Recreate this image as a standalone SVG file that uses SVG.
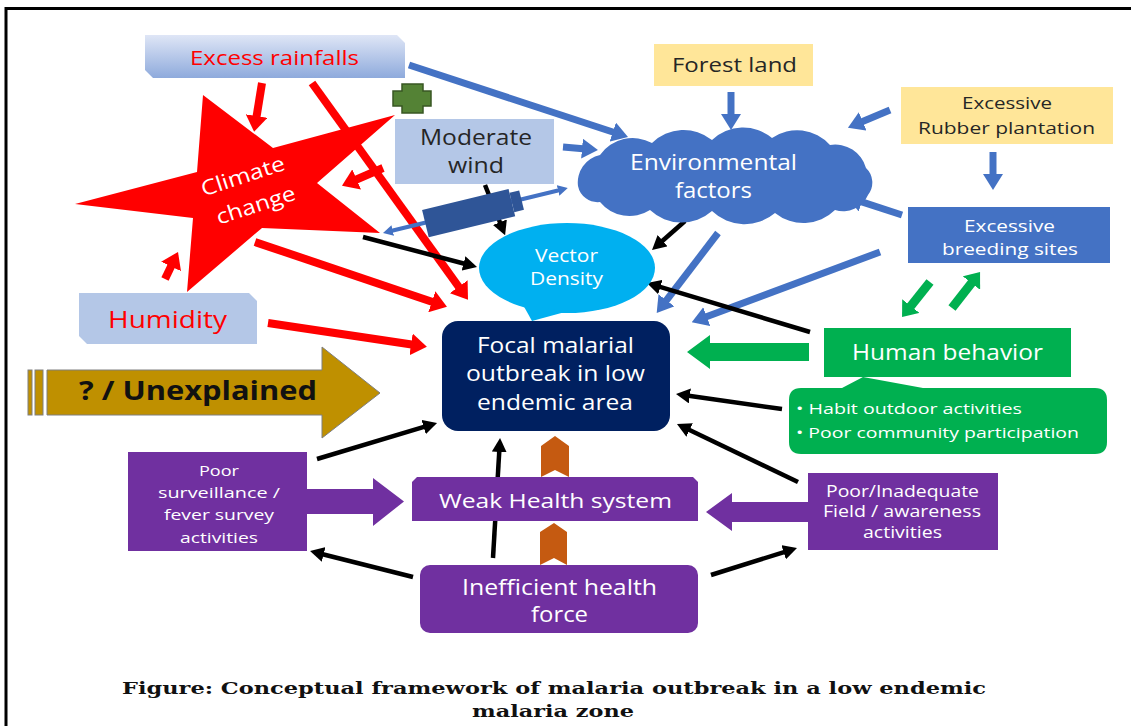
<svg xmlns="http://www.w3.org/2000/svg" width="1131" height="726" viewBox="0 0 1131 726">
<defs>
<linearGradient id="gRain" x1="0" y1="0" x2="0" y2="1"><stop offset="0" stop-color="#dfe6f6"/><stop offset="1" stop-color="#8eaadc"/></linearGradient>
<marker id="mr" markerUnits="userSpaceOnUse" markerWidth="16" markerHeight="22" viewBox="0 0 16 22" refX="4" refY="11" orient="auto"><path d="M0,0 L16,11 L0,22 z" fill="#ff0000"/></marker>
<marker id="mb" markerUnits="userSpaceOnUse" markerWidth="16" markerHeight="20" viewBox="0 0 16 20" refX="4" refY="10" orient="auto"><path d="M0,0 L16,10 L0,20 z" fill="#4472c4"/></marker>
<marker id="mk" markerUnits="userSpaceOnUse" markerWidth="14" markerHeight="15" viewBox="0 0 14 15" refX="3" refY="7.5" orient="auto"><path d="M0,0 L14,7.5 L0,15 z" fill="#000"/></marker>
<marker id="mg" markerUnits="userSpaceOnUse" markerWidth="14" markerHeight="22" viewBox="0 0 14 22" refX="4" refY="11" orient="auto"><path d="M0,0 L14,11 L0,22 z" fill="#00b050"/></marker>
<marker id="ms" markerUnits="userSpaceOnUse" markerWidth="10" markerHeight="11" viewBox="0 0 10 11" refX="2" refY="5.5" orient="auto-start-reverse"><path d="M0,0 L10,5.5 L0,11 z" fill="#4472c4"/></marker>
<style>
.t{font-family:"Open Sans","Liberation Sans",sans-serif;text-anchor:middle}
.wt{fill:#ffffff}
.dk{fill:#262626}
.rd{fill:#ff0000}
.red{stroke:#ff0000;stroke-width:8;fill:none;marker-end:url(#mr)}
.blu{stroke:#4472c4;stroke-width:7;fill:none;marker-end:url(#mb)}
.blk{stroke:#000;stroke-width:4.5;fill:none;marker-end:url(#mk)}
.grn{stroke:#00b050;stroke-width:9;fill:none;marker-end:url(#mg)}
.cap{font-family:"DejaVu Serif","Liberation Serif",serif;font-weight:bold;text-anchor:middle;fill:#111}
</style>
</defs>
<rect x="0" y="0" width="1131" height="726" fill="#ffffff"/>
<path d="M6,726 L6,8.5 L1131,8.5" stroke="#000" stroke-width="3" fill="none"/>

<g id="climate-change">
<path d="M203,95 L273,148 L395,115 L317,183 L380,233 L262,228 L187,292 L193,218 L75,204 L197,172 Z" fill="#ff0000"/>
<text class="t wt" x="245" y="183" font-size="21" textLength="87" lengthAdjust="spacingAndGlyphs" transform="rotate(-18 245 183)">Climate</text>
<text class="t wt" x="258" y="212" font-size="21" textLength="82" lengthAdjust="spacingAndGlyphs" transform="rotate(-18 258 212)">change</text>
</g>

<g id="connectors">
<line class="red" x1="262" y1="83" x2="256" y2="120"/>
<line class="red" x1="312" y1="83" x2="461" y2="290"/>
<line class="red" x1="383" y1="168" x2="353" y2="181"/>
<line class="red" x1="255" y1="242" x2="435.6" y2="303"/>
<line class="red" x1="165" y1="279" x2="172.8" y2="262.8"/>
<line class="red" x1="268" y1="323" x2="415" y2="345"/>

<line class="blu" x1="409" y1="65" x2="616.6" y2="133.3"/>
<line class="blu" x1="563" y1="147" x2="586" y2="149"/>
<line class="blu" x1="731" y1="92" x2="731" y2="118"/>
<line class="blu" x1="890" y1="110" x2="859" y2="123"/>
<line class="blu" x1="993" y1="152" x2="993" y2="178"/>
<line class="blu" x1="902" y1="215" x2="858" y2="200.7"/>
<line class="blu" x1="718" y1="233" x2="664" y2="303.5"/>
<line class="blu" x1="880" y1="252" x2="703" y2="318"/>

<line class="blk" x1="485" y1="185" x2="501" y2="225"/>
<line class="blk" x1="363" y1="237" x2="466.4" y2="264.2"/>
<line class="blk" x1="685" y1="221" x2="660.3" y2="242.7"/>
<line class="blk" x1="810" y1="332" x2="657.5" y2="286.2"/>
<line class="blk" x1="782" y1="409" x2="686.9" y2="395.5"/>
<line class="blk" x1="798" y1="482" x2="686.9" y2="428.8"/>
<line class="blk" x1="317" y1="459" x2="426.5" y2="426.2"/>
<line class="blk" x1="413" y1="577" x2="320.7" y2="553.7"/>
<line class="blk" x1="493" y1="558" x2="499.4" y2="449"/>
<line class="blk" x1="711" y1="575" x2="786.5" y2="551.3"/>

<line class="grn" x1="930" y1="282" x2="908.3" y2="309.2"/>
<line class="grn" x1="952" y1="308" x2="973.9" y2="279.9"/>
<path d="M809,343 H710 V335 L687,352 L710,369 V361 H809 Z" fill="#00b050"/>

<path d="M306,489 H373 V478 L404,501.5 L373,526 V514 H306 Z" fill="#7030a0"/>
<path d="M808,502 H732 V493 L706,512 L732,531 V522 H808 Z" fill="#7030a0"/>

<line x1="390.8" y1="231" x2="560" y2="190" stroke="#4472c4" stroke-width="4" marker-start="url(#ms)" marker-end="url(#ms)"/>
</g>

<g id="moderate-wind-link" transform="translate(473,212) rotate(-13.7)">
<rect x="-49" y="-14" width="89" height="28" fill="#2f5597"/>
<rect x="40" y="-10" width="10" height="20" fill="#2f5597"/>
</g>

<g id="excess-rainfalls">
<path d="M145,35 H397 L405,43 V78 H153 L145,70 Z" fill="url(#gRain)"/>
<text class="t rd" x="274.5" y="65" font-size="20" textLength="169" lengthAdjust="spacingAndGlyphs">Excess rainfalls</text>
</g>

<g id="plus">
<path d="M402,84 H423 V91 H431 V106 H423 V113 H402 V106 H393 V91 H402 Z" fill="#548235" stroke="#385723" stroke-width="1.5"/>
</g>

<g id="moderate-wind">
<rect x="395" y="119" width="159" height="65" fill="#b4c7e7"/>
<text class="t dk" x="476" y="145" font-size="21" textLength="112" lengthAdjust="spacingAndGlyphs">Moderate</text>
<text class="t dk" x="476" y="173" font-size="21" textLength="56" lengthAdjust="spacingAndGlyphs">wind</text>
</g>

<g id="forest-land">
<rect x="654" y="44" width="159" height="42" fill="#ffe699"/>
<text class="t dk" x="734.5" y="72" font-size="20" textLength="125" lengthAdjust="spacingAndGlyphs">Forest land</text>
</g>

<g id="rubber-plantation">
<rect x="901" y="87" width="212" height="57" fill="#ffe699"/>
<text class="t dk" x="1007" y="109" font-size="16" textLength="90" lengthAdjust="spacingAndGlyphs">Excessive</text>
<text class="t dk" x="1006.5" y="134" font-size="16" textLength="177" lengthAdjust="spacingAndGlyphs">Rubber plantation</text>
</g>

<g id="environmental-factors">
<path d="M578,186 A28,28 0 0 1 600,155 A40,40 0 0 1 652,143 A45,45 0 0 1 712,140 A45,45 0 0 1 772,138 A44,44 0 0 1 830,145 A32,32 0 0 1 866,168 A20,20 0 0 1 868,195 A27,27 0 0 1 835,210 A45,45 0 0 1 775,213 A47,47 0 0 1 712,211 A46,46 0 0 1 650,210 A38,38 0 0 1 600,202 A20,20 0 0 1 578,186 Z" fill="#4472c4"/>
<text class="t wt" x="713.5" y="170" font-size="21" textLength="167" lengthAdjust="spacingAndGlyphs">Environmental</text>
<text class="t wt" x="713.5" y="198" font-size="21" textLength="77" lengthAdjust="spacingAndGlyphs">factors</text>
</g>

<g id="breeding-sites">
<rect x="908" y="207" width="202" height="56" fill="#4472c4"/>
<text class="t wt" x="1009.5" y="232" font-size="16" textLength="91" lengthAdjust="spacingAndGlyphs">Excessive</text>
<text class="t wt" x="1010" y="255" font-size="16" textLength="136" lengthAdjust="spacingAndGlyphs">breeding sites</text>
</g>

<g id="vector-density">
<ellipse cx="567" cy="268" rx="88" ry="45" fill="#00b0f0"/>
<path d="M522,303 L532,321 L565,312 Z" fill="#00b0f0"/>
<text class="t wt" x="566.5" y="262" font-size="18" textLength="63" lengthAdjust="spacingAndGlyphs">Vector</text>
<text class="t wt" x="566.5" y="285" font-size="18" textLength="73" lengthAdjust="spacingAndGlyphs">Density</text>
</g>

<g id="focal-outbreak">
<rect x="442" y="321" width="228" height="110" rx="16" fill="#002060"/>
<text class="t wt" x="555.5" y="353" font-size="21" textLength="157" lengthAdjust="spacingAndGlyphs">Focal malarial</text>
<text class="t wt" x="555.5" y="381" font-size="21" textLength="179" lengthAdjust="spacingAndGlyphs">outbreak in low</text>
<text class="t wt" x="555" y="410" font-size="21" textLength="156" lengthAdjust="spacingAndGlyphs">endemic area</text>
</g>

<g id="humidity">
<path d="M79,293 H249 L257,301 V344 H87 L79,336 Z" fill="#b4c7e7"/>
<text class="t rd" x="167.5" y="328" font-size="23" textLength="119" lengthAdjust="spacingAndGlyphs">Humidity</text>
</g>

<g id="unexplained">
<rect x="28" y="370" width="4" height="45" fill="#bf9000" stroke="#7f7f7f" stroke-width="1"/>
<rect x="35" y="370" width="8" height="45" fill="#bf9000" stroke="#7f7f7f" stroke-width="1"/>
<path d="M47,370 H322 V347 L380,393 L322,438 V415 H47 Z" fill="#bf9000" stroke="#7f7f7f" stroke-width="1"/>
<text class="t" x="198" y="400" font-size="27" font-weight="bold" fill="#111" textLength="238" lengthAdjust="spacingAndGlyphs">? / Unexplained</text>
</g>

<g id="human-behavior">
<rect x="824" y="328" width="247" height="49" fill="#00b050"/>
<path d="M801,388 L842,388 L863,377 L923,388 L1095,388 Q1107,388 1107,400 L1107,442 Q1107,454 1095,454 L801,454 Q789,454 789,442 L789,400 Q789,388 801,388 Z" fill="#00b050"/>
<text class="t wt" x="947.5" y="360" font-size="21" textLength="191" lengthAdjust="spacingAndGlyphs">Human behavior</text>
<text class="wt" x="796" y="414" font-family="Open Sans, Liberation Sans, sans-serif" font-size="15" textLength="226" lengthAdjust="spacingAndGlyphs">• Habit outdoor activities</text>
<text class="wt" x="796" y="438" font-family="Open Sans, Liberation Sans, sans-serif" font-size="15" textLength="283" lengthAdjust="spacingAndGlyphs">• Poor community participation</text>
</g>

<g id="poor-surveillance">
<rect x="128" y="452" width="179" height="99" fill="#7030a0"/>
<text class="t wt" x="219" y="476" font-size="15" textLength="40" lengthAdjust="spacingAndGlyphs">Poor</text>
<text class="t wt" x="219" y="498" font-size="15" textLength="122" lengthAdjust="spacingAndGlyphs">surveillance /</text>
<text class="t wt" x="219" y="520" font-size="15" textLength="110" lengthAdjust="spacingAndGlyphs">fever survey</text>
<text class="t wt" x="219" y="543" font-size="15" textLength="78" lengthAdjust="spacingAndGlyphs">activities</text>
</g>

<g id="weak-health-system">
<path d="M417,477 H693 L698,482 V521 H412 V482 Z" fill="#7030a0"/>
<text class="t wt" x="555.5" y="508" font-size="20" textLength="233" lengthAdjust="spacingAndGlyphs">Weak Health system</text>
</g>

<g id="poor-inadequate">
<rect x="808" y="473" width="190" height="77" fill="#7030a0"/>
<text class="t wt" x="902.5" y="497" font-size="15.5" textLength="153" lengthAdjust="spacingAndGlyphs">Poor/Inadequate</text>
<text class="t wt" x="902" y="517" font-size="15.5" textLength="158" lengthAdjust="spacingAndGlyphs">Field / awareness</text>
<text class="t wt" x="902.5" y="538" font-size="15.5" textLength="79" lengthAdjust="spacingAndGlyphs">activities</text>
</g>

<g id="inefficient-health-force">
<rect x="420" y="565" width="278" height="68" rx="10" fill="#7030a0"/>
<text class="t wt" x="559.5" y="595" font-size="21" textLength="195" lengthAdjust="spacingAndGlyphs">Inefficient health</text>
<text class="t wt" x="559.5" y="622" font-size="21" textLength="57" lengthAdjust="spacingAndGlyphs">force</text>
</g>

<g id="chevrons">
<path d="M541,446 L555,436 L569,446 V477 L555,470 L541,477 Z" fill="#c55a11"/>
<path d="M540,532 L554,523 L567,532 V565 L554,558 L540,565 Z" fill="#c55a11"/>
</g>

<g id="caption">
<text class="cap" x="554" y="694" font-size="17" textLength="864" lengthAdjust="spacingAndGlyphs">Figure: Conceptual framework of malaria outbreak in a low endemic</text>
<text class="cap" x="553" y="717" font-size="17" textLength="162" lengthAdjust="spacingAndGlyphs">malaria zone</text>
</g>
</svg>
